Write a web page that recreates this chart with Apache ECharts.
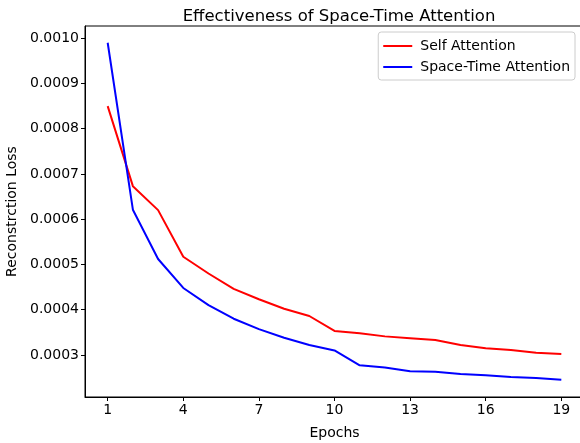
<!DOCTYPE html>
<html>
<head>
<meta charset="utf-8">
<script src="https://cdn.jsdelivr.net/npm/echarts@6/dist/echarts.min.js"></script>
<style>
  html, body { margin: 0; padding: 0; background: #fff; }
  #chart { width: 580px; height: 443px; }
</style>
</head>
<body>
<div id="chart"></div>
<script>
const epochs = [1, 2, 3, 4, 5, 6, 7, 8, 9, 10, 11, 12, 13, 14, 15, 16, 17, 18, 19]
const selfAttention = [0.000850, 0.000673, 0.000620, 0.000517, 0.000480, 0.000446, 0.000423, 0.000402, 0.000386,
  0.000353, 0.000348, 0.000341, 0.000337, 0.000333, 0.000322, 0.000315, 0.000311, 0.000305, 0.000302]
const spaceTimeAttention = [0.000990, 0.000621, 0.000512, 0.000448, 0.000410, 0.000380, 0.000357, 0.000338, 0.000322,
  0.000310, 0.000277, 0.000272, 0.000264, 0.000263, 0.000258, 0.000255, 0.000251, 0.000249, 0.000245]
const xTicks = [1, 4, 7, 10, 13, 16, 19]
const yTicks = [0.0003, 0.0004, 0.0005, 0.0006, 0.0007, 0.0008, 0.0009, 0.0010]

const font = 'DejaVu Sans'
const chart = echarts.init(document.getElementById('chart'))

const pairs = (ys) => epochs.map((e, i) => [e, ys[i]])

const option = {
  animation: false,
  textStyle: { fontFamily: font },
  title: {
    text: 'Effectiveness of Space-Time Attention',
    left: 334, top: 3, textAlign: 'center',
    textStyle: { fontFamily: font, fontSize: 16.5, fontWeight: 'normal', color: '#000' },
  },
  legend: {
    right: 5, top: 32, orient: 'vertical',
    itemWidth: 29, itemHeight: 2, itemGap: 7,
    padding: [7, 5, 6, 5],
    borderColor: '#ccc', borderWidth: 1, borderRadius: 3,
    icon: 'rect',
    textStyle: { fontFamily: font, fontSize: 14, color: '#000', padding: [0, 0, 0, 3] },
    data: ['Self Attention', 'Space-Time Attention'],
  },
  grid: {
    left: 85, right: -4, top: 26, bottom: 46,
    outerBoundsMode: 'none',
    show: true, borderColor: '#000', borderWidth: 1,
  },
  xAxis: {
    type: 'value', min: 0.1, max: 19.9,
    name: 'Epochs', nameLocation: 'middle', nameGap: 29,
    nameTextStyle: { fontFamily: font, fontSize: 14, color: '#000' },
    axisLine: { show: true, lineStyle: { color: '#000' } },
    axisTick: { show: true, length: 4, lineStyle: { color: '#000' }, customValues: xTicks },
    axisLabel: { fontSize: 14, color: '#000', margin: 6, customValues: xTicks },
    splitLine: { show: false },
  },
  yAxis: {
    type: 'value', min: 0.000207, max: 0.001027,
    name: 'Reconstrction Loss', nameLocation: 'middle', nameGap: 64, nameRotate: 90,
    nameTextStyle: { fontFamily: font, fontSize: 14, color: '#000' },
    axisLine: { show: true, lineStyle: { color: '#000' } },
    axisTick: { show: true, length: 4, lineStyle: { color: '#000' }, customValues: yTicks },
    axisLabel: {
      fontSize: 14, color: '#000', margin: 6, customValues: yTicks,
      formatter: (v) => v.toFixed(4),
    },
    splitLine: { show: false },
  },
  series: [
    {
      name: 'Self Attention', type: 'line', data: pairs(selfAttention),
      showSymbol: false, color: '#ff0000',
      lineStyle: { width: 2, color: '#ff0000' },
    },
    {
      name: 'Space-Time Attention', type: 'line', data: pairs(spaceTimeAttention),
      showSymbol: false, color: '#0000ff',
      lineStyle: { width: 2, color: '#0000ff' },
    },
  ],
}

chart.setOption(option)
</script>
</body>
</html>
